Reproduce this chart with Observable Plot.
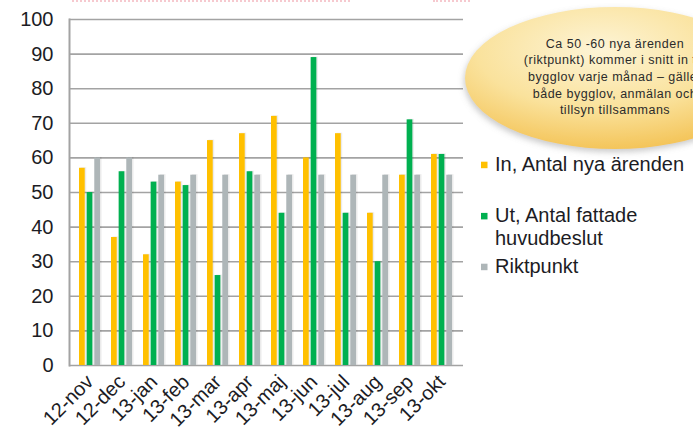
<!DOCTYPE html>
<html>
<head>
<meta charset="utf-8">
<script src="https://cdn.jsdelivr.net/npm/d3@7"></script>
<script src="https://cdn.jsdelivr.net/npm/@observablehq/plot@0.6"></script>
<style>
  html, body { margin: 0; padding: 0; background: #fff; }
  #wrap { position: relative; width: 693px; height: 430px; overflow: hidden; font-family: "Liberation Sans", Arial, sans-serif; }
  #overlay { position: absolute; left: 0; top: 0; pointer-events: none; }
  .dots { position: absolute; top: 0; height: 0; border-top: 2px dotted #f6c9cf; }
</style>
</head>
<body>
<div id="wrap">
  <div class="dots" style="left:72px;width:278px"></div>
  <div class="dots" style="left:433px;width:37px"></div>
</div>
<script>
// ---- data ----
const months = ["12-nov","12-dec","13-jan","13-feb","13-mar","13-apr","13-maj","13-jun","13-jul","13-aug","13-sep","13-okt"];
const inValues   = [57, 37, 32, 53, 65, 67, 72, 60, 67, 44, 55, 61];
const utValues   = [50, 56, 53, 52, 26, 56, 44, 89, 44, 30, 71, 61];
const riktValues = [60, 60, 55, 55, 55, 55, 55, 55, 55, 55, 55, 55];
const seriesNames = ["In, Antal nya ärenden", "Ut, Antal fattade huvudbeslut", "Riktpunkt"];
const seriesColors = ["#FFC000", "#00B050", "#AEB6B8"];
const yTicks = [0, 10, 20, 30, 40, 50, 60, 70, 80, 90, 100];
const noteLines = ["Ca 50 -60 nya ärenden", "(riktpunkt) kommer i snitt in till", "bygglov  varje månad – gäller", "både bygglov, anmälan och", "tillsyn tillsammans"];

// ---- layout ----
const W = 693, H = 430;
const mL = 69, mR = 230, mT = 19, mB = 65;
const pInner = 0.34, pOuter = 0.17;
const step = (W - mL - mR) / (months.length - pInner + 2 * pOuter);
const bw = step * (1 - pInner);
const barW = 6.4;
const gap = (bw - 3 * barW) / 2;

const allValues = [inValues, utValues, riktValues];
const rows = allValues.map((vals, si) => months.map((m, i) => ({month: m, series: seriesNames[si], value: vals[i]})));

const barMarks = [];
rows.forEach((data, si) => {
  const left = si * (barW + gap);
  const right = bw - left - barW;
  barMarks.push(Plot.barY(data, {x: "month", y: "value", fill: "#000", fillOpacity: 0.08, insetLeft: left, insetRight: right, dx: 1.5, dy: -0.5}));
});
rows.forEach((data, si) => {
  const left = si * (barW + gap);
  const right = bw - left - barW;
  barMarks.push(Plot.barY(data, {x: "month", y: "value", fill: seriesColors[si], insetLeft: left, insetRight: right}));
});

const chart = Plot.plot({
  width: W, height: H,
  marginLeft: mL, marginRight: mR, marginTop: mT, marginBottom: mB,
  x: {domain: months, paddingInner: pInner, paddingOuter: pOuter, align: 0.5, label: null},
  y: {domain: [0, 100], label: null},
  style: {fontFamily: "'Liberation Sans', Arial, sans-serif", fontSize: "20px", color: "#1c1c24", background: "transparent"},
  marks: [
    Plot.gridY(yTicks, {stroke: "#a3a3a3", strokeOpacity: 1, strokeWidth: 1.6}),
    ...barMarks,
    Plot.frame({anchor: "left", stroke: "#a3a3a3", strokeWidth: 2}),
    Plot.axisY(yTicks, {tickSize: 0, tickPadding: 16, fontSize: 20, label: null, tickFormat: d => String(d)}),
    Plot.axisX({tickSize: 0, tickRotate: -45, tickPadding: 13, fontSize: 20, label: null})
  ]
});
document.getElementById("wrap").appendChild(chart);

// ---- overlay: note bubble and legend ----
const svg = d3.select("#wrap").append("svg").attr("id", "overlay").attr("width", W).attr("height", H);
const defs = svg.append("defs");
const grad = defs.append("radialGradient").attr("id", "bub").attr("cx", "45%").attr("cy", "30%").attr("r", "75%");
grad.append("stop").attr("offset", "0%").attr("stop-color", "#fdf4d6");
grad.append("stop").attr("offset", "55%").attr("stop-color", "#fae29c");
grad.append("stop").attr("offset", "100%").attr("stop-color", "#f3c04f");
const f = defs.append("filter").attr("id", "sh").attr("x", "-20%").attr("y", "-20%").attr("width", "140%").attr("height", "150%");
f.append("feDropShadow").attr("dx", -1).attr("dy", 3).attr("stdDeviation", 3).attr("flood-color", "#888").attr("flood-opacity", 0.45);
svg.append("ellipse").attr("cx", 615).attr("cy", 78).attr("rx", 150).attr("ry", 71).attr("fill", "url(#bub)").attr("filter", "url(#sh)");
const noteY = [47.5, 64.2, 80.9, 97.6, 114.3];
noteLines.forEach((t, i) => {
  svg.append("text").attr("x", 615).attr("y", noteY[i]).attr("text-anchor", "middle")
    .attr("font-family", "'Liberation Sans', Arial, sans-serif").attr("font-size", 12.5)
    .attr("letter-spacing", 0.5).attr("fill", "#2b2b2b").text(t);
});

// legend
const legendItems = [
  {color: seriesColors[0], lines: ["In, Antal nya ärenden"], y: 170.5},
  {color: seriesColors[1], lines: ["Ut, Antal fattade", "huvudbeslut"], y: 221.7},
  {color: seriesColors[2], lines: [seriesNames[2]], y: 272.5}
];
legendItems.forEach(it => {
  svg.append("rect").attr("x", 481).attr("y", it.y - 8.8).attr("width", 6.5).attr("height", 6.5).attr("fill", it.color);
  it.lines.forEach((t, j) => {
    svg.append("text").attr("x", 495).attr("y", it.y + j * 23.5)
      .attr("font-family", "'Liberation Sans', Arial, sans-serif").attr("font-size", 20)
      .attr("fill", "#1c1c24").text(t);
  });
});
</script>
</body>
</html>
